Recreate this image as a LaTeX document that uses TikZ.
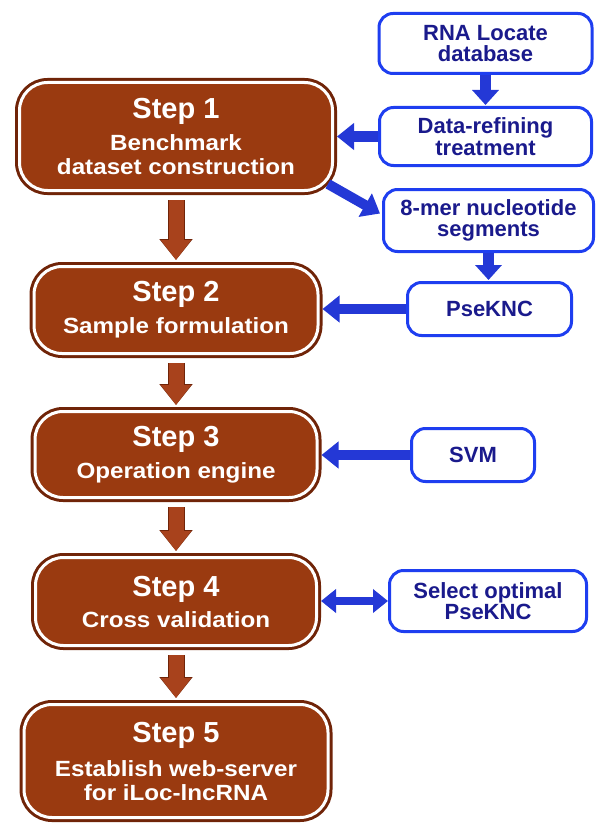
\documentclass[tikz,border=0pt]{standalone}
\usepackage{fontspec}
\setmainfont{Liberation Sans}
\newfontfamily\subfont{Liberation Sans}[FakeStretch=1.1]
\usepackage{xcolor}
\usetikzlibrary{calc,positioning,arrows.meta}

\definecolor{stepfill}{RGB}{154,58,16}
\definecolor{stepedge}{RGB}{112,36,8}
\definecolor{arrowbrown}{RGB}{168,66,28}
\definecolor{boxblue}{RGB}{30,62,240}
\definecolor{textblue}{RGB}{26,26,140}
\definecolor{arrowblue}{RGB}{36,56,214}

\newcommand{\stepttl}{\fontsize{29}{29}\selectfont\rmfamily}

\tikzset{
	stepbox/.style={rounded corners=28pt, fill=stepfill, draw=white, line width=3pt, outer sep=4.5pt, inner sep=0pt,
		text=white, align=center, font=\subfont\bfseries\fontsize{22}{24}\selectfont,
		preaction={draw=stepedge, line width=9pt}},
	infobox/.style={rounded corners=14pt, fill=white, draw=boxblue, line width=3pt, inner sep=0pt,
		text=textblue, align=center, font=\bfseries\fontsize{22}{21.5}\selectfont},
	steparrow/.style={draw=arrowbrown, line width=15pt, -{Triangle[length=20pt,width=29pt]},
		preaction={draw=stepedge, line width=17pt, -{Triangle[length=21pt,width=32pt]}}},
	flowarrow/.style={draw=arrowblue, line width=10pt, -{Triangle[length=17pt,width=26pt]}},
	twoway/.style={draw=arrowblue, line width=8pt, {Triangle[length=15pt,width=23pt]}-{Triangle[length=15pt,width=23pt]}}
}

\begin{document}
\begin{tikzpicture}[x=1pt,y=-1pt]
		\useasboundingbox (0,0) rectangle (597,824);
		
		\node[stepbox, minimum width=313pt, minimum height=108pt] (step1) at (176,136.5) {{\stepttl Step 1}\\[8pt]Benchmark\\dataset construction};
		\node[stepbox, minimum width=284pt, minimum height=87pt] (step2) at (176,310) {{\stepttl Step 2}\\[8pt]Sample formulation};
		\node[stepbox, minimum width=282pt, minimum height=86pt] (step3) at (176,454.5) {{\stepttl Step 3}\\[8pt]Operation engine};
		\node[stepbox, minimum width=281pt, minimum height=88pt] (step4) at (176,601.5) {{\stepttl Step 4}\\[7pt]Cross validation};
		\node[stepbox, minimum width=304pt, minimum height=113pt] (step5) at (176,761) {{\stepttl Step 5}\\[10pt]Establish web-server\\for iLoc-lncRNA};
		
		\node[infobox, minimum width=213pt, minimum height=60pt] (rna) at (485.5,43.5) {RNA Locate\\database};
		\node[infobox, minimum width=212pt, minimum height=58pt] (refine) at (485.5,136.5) {Data-refining\\treatment};
		\node[infobox, minimum width=210pt, minimum height=62pt] (kmer) at (488.5,220.5) {8-mer nucleotide\\segments};
		\node[infobox, minimum width=164pt, minimum height=53pt] (pse) at (489.5,309) {PseKNC};
		\node[infobox, minimum width=123pt, minimum height=53pt] (svm) at (473,455) {SVM};
		\node[infobox, minimum width=197pt, minimum height=61pt] (select) at (488,601) {Select optimal\\PseKNC};
		
		\foreach \a/\b in {step1/step2,step2/step3,step3/step4,step4/step5} {
			\draw[steparrow, shorten <=5pt, shorten >=2pt] (\a.south) -- (\b.north);
		};
		
		\draw[flowarrow, line width=11pt, -{Triangle[length=15pt,width=26pt]}, shorten >=1pt] (rna.south) -- (refine.north);
		\draw[flowarrow, line width=11pt, -{Triangle[length=15pt,width=26pt]}, shorten >=1pt] (kmer.south) -- (kmer.south |- pse.north);
		\draw[flowarrow] (refine.west) -- (refine.west -| step1.east);
		\draw[flowarrow] ($(step1.south east)+(-9,-11)$) -- ($(kmer.west)+(-2,-7)$);
		\draw[flowarrow] (pse.west) -- (pse.west -| step2.east);
		\draw[flowarrow] (svm.west) -- (svm.west -| step3.east);
		\draw[twoway] (select.west) -- (select.west -| step4.east);
	\end{tikzpicture}
\end{document}
